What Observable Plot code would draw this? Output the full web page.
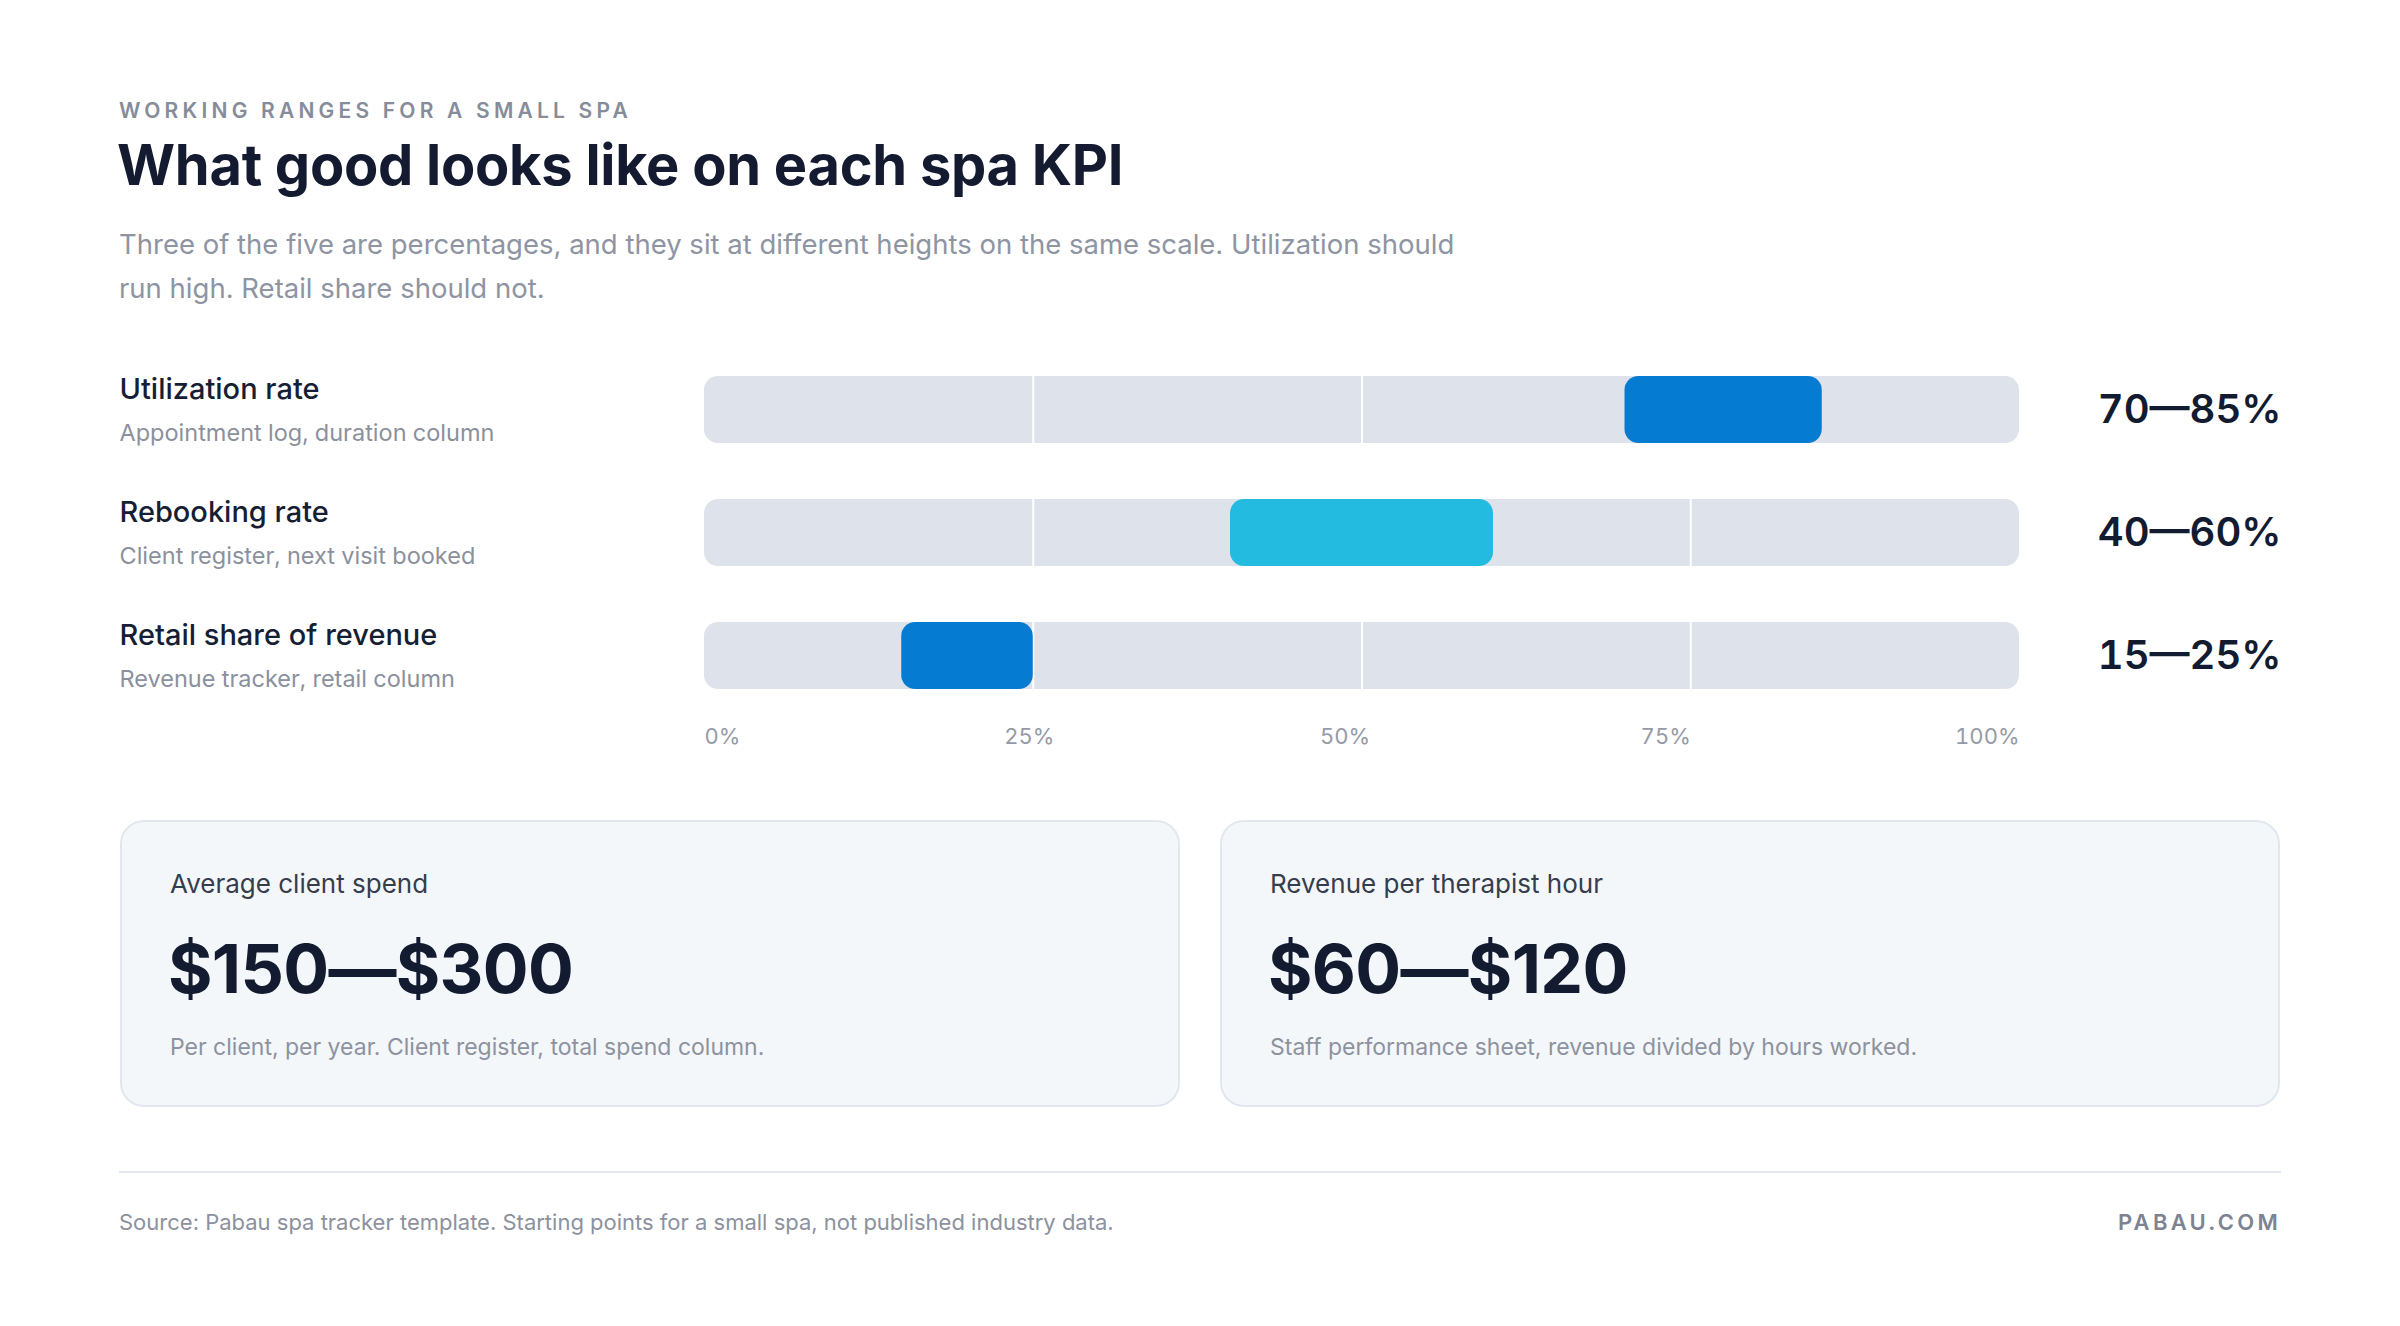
<!DOCTYPE html>
<html>
<head>
<meta charset="utf-8">
<script src="https://cdn.jsdelivr.net/npm/d3@7"></script>
<script src="https://cdn.jsdelivr.net/npm/@observablehq/plot@0.6"></script>
<style>
  html, body { margin: 0; padding: 0; background: #ffffff; }
  body { width: 2400px; height: 1326px; position: relative; overflow: hidden; font-family: Inter, "Noto Sans", sans-serif; }
  .abs { position: absolute; }
  #eyebrow { left: 119px; top: 99px; line-height: 24px; font-size: 21px; font-weight: 600; letter-spacing: 0.2em; color: #868c9a; }
  #title { left: 117px; top: 130px; line-height: 70px; font-size: 56px; font-weight: 700; letter-spacing: -0.005em; color: #141b31; }
  #subtitle { left: 119px; top: 222px; width: 1370px; line-height: 44px; font-size: 27.5px; font-weight: 400; color: #8e94a1; }
  #chart { left: 119px; top: 340px; }
  .card { position: absolute; top: 820px; height: 287px; box-sizing: border-box; border: 2px solid #e1e7ee; border-radius: 24px; background: #f4f7fa; }
  .card .lab { position: absolute; left: 48px; top: 45px; line-height: 34px; font-size: 26px; color: #363d4d; }
  .card .val { position: absolute; left: 46px; top: 106px; line-height: 80px; font-size: 68px; font-weight: 700; letter-spacing: -0.01em; color: #131b31; }
  .card .note { position: absolute; left: 48px; top: 208px; line-height: 34px; font-size: 23px; color: #8d929f; }
  #rule { left: 119px; top: 1171px; width: 2162px; height: 2px; background: #e4e8ee; }
  #source { left: 119px; top: 1209px; line-height: 26px; font-size: 22px; color: #8c919d; }
  #brand { right: 119px; top: 1209px; line-height: 26px; font-size: 22px; font-weight: 600; letter-spacing: 0.15em; color: #7d8391; }
</style>
</head>
<body>
<div id="eyebrow" class="abs">WORKING RANGES FOR A SMALL SPA</div>
<div id="title" class="abs">What good looks like on each spa KPI</div>
<div id="subtitle" class="abs">Three of the five are percentages, and they sit at different heights on the same scale. Utilization should run high. Retail share should not.</div>
<div id="chart" class="abs"></div>
<div id="cards"></div>
<div id="rule" class="abs"></div>
<div id="source" class="abs">Source: Pabau spa tracker template. Starting points for a small spa, not published industry data.</div>
<div id="brand" class="abs">PABAU.COM</div>
<script>
// ---- data ----
const kpiNames = ["Utilization rate", "Rebooking rate", "Retail share of revenue"];
const kpiSources = ["Appointment log, duration column", "Client register, next visit booked", "Revenue tracker, retail column"];
const rangeLow = [70, 40, 15];
const rangeHigh = [85, 60, 25];
const rangeColors = ["#067bd2", "#24bbe0", "#067bd2"];
const gridTicks = [25, 50, 75];
const axisTicks = [0, 25, 50, 75, 100];
const axisLabels = ["0%", "25%", "50%", "75%", "100%"];

const cardTitles = ["Average client spend", "Revenue per therapist hour"];
const cardValues = ["$150\u2014$300", "$60\u2014$120"];
const cardNotes = ["Per client, per year. Client register, total spend column.", "Staff performance sheet, revenue divided by hours worked."];

// ---- tables built from arrays ----
const rows = kpiNames.map((name, i) => ({
  name, source: kpiSources[i], lo: rangeLow[i], hi: rangeHigh[i], color: rangeColors[i],
  label: `${rangeLow[i]}\u2014${rangeHigh[i]}%`
}));
const grid = rows.flatMap(r => gridTicks.map(t => ({name: r.name, t})));
const ticks = axisTicks.map((t, i) => ({t, label: axisLabels[i]}));

const W = 2162, H = 420, ML = 585, MR = 262;
const tickStyle = {x: "t", text: "label", frameAnchor: "bottom", dy: 52, fontSize: 22, fill: "#959aa6"};
const chart = Plot.plot({
  width: W,
  height: H,
  marginLeft: ML,
  marginRight: MR,
  marginTop: 35,
  marginBottom: 69,
  style: {fontFamily: "Inter, 'Noto Sans', sans-serif", background: "transparent", overflow: "visible", fontVariantNumeric: "tabular-nums"},
  x: {domain: [0, 100], axis: null},
  y: {domain: kpiNames, axis: null, paddingInner: 0.4516, paddingOuter: 0},
  marks: [
    Plot.barX(rows, {x1: 0, x2: 100, y: "name", fill: "#dee2eb", rx: 14}),
    Plot.tickX(grid, {x: "t", y: "name", stroke: "#ffffff", strokeWidth: 2}),
    Plot.barX(rows, {x1: "lo", x2: "hi", y: "name", fill: "color", rx: 14}),
    Plot.text(rows, {y: "name", text: "name", frameAnchor: "left", textAnchor: "start", dx: -ML, dy: -20, fontSize: 29, fontWeight: 500, fill: "#161e33"}),
    Plot.text(rows, {y: "name", text: "source", frameAnchor: "left", textAnchor: "start", dx: -ML, dy: 23, fontSize: 23.5, fill: "#8b909d"}),
    Plot.text(rows, {y: "name", text: "label", frameAnchor: "right", textAnchor: "end", dx: MR, fontSize: 40, fontWeight: 600, fill: "#131b31"}),
    Plot.text(ticks.filter(d => d.t === 0), {...tickStyle, textAnchor: "start"}),
    Plot.text(ticks.filter(d => d.t === 25), {...tickStyle, textAnchor: "middle", dx: -4}),
    Plot.text(ticks.filter(d => d.t === 50), {...tickStyle, textAnchor: "middle", dx: -17}),
    Plot.text(ticks.filter(d => d.t >= 75), {...tickStyle, textAnchor: "end"})
  ]
});
document.getElementById("chart").appendChild(chart);

// ---- cards ----
const cardsEl = document.getElementById("cards");
const cardLefts = [120, 1220];
cardTitles.forEach((t, i) => {
  const c = document.createElement("div");
  c.className = "card";
  c.style.left = cardLefts[i] + "px";
  c.style.width = "1060px";
  c.innerHTML = `<div class="lab"></div><div class="val"></div><div class="note"></div>`;
  c.querySelector(".lab").textContent = t;
  c.querySelector(".val").textContent = cardValues[i];
  c.querySelector(".note").textContent = cardNotes[i];
  cardsEl.appendChild(c);
});
</script>
</body>
</html>
